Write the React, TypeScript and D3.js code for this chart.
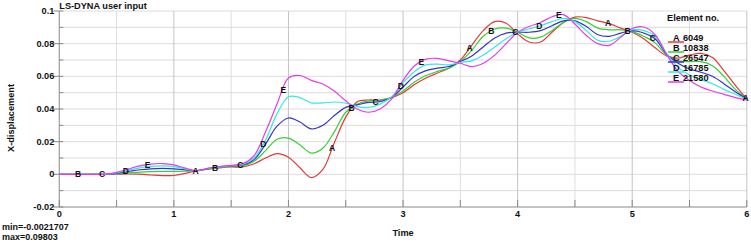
import React from "react";
import * as d3 from "d3";

// ---------- data ----------
const TIME = [
  0, 0.1, 0.2, 0.3, 0.4, 0.5, 0.6, 0.7, 0.8, 0.9,
  1, 1.1, 1.2, 1.3, 1.4, 1.5, 1.6, 1.7, 1.8, 1.9,
  2, 2.1, 2.2, 2.3, 2.4, 2.5, 2.6, 2.7, 2.8, 2.9,
  3, 3.1, 3.2, 3.3, 3.4, 3.5, 3.6, 3.7, 3.8, 3.9,
  4, 4.1, 4.2, 4.3, 4.4, 4.5, 4.6, 4.7, 4.8, 4.9,
  5, 5.1, 5.2, 5.3, 5.4, 5.5, 5.6, 5.7, 5.8, 5.9, 6,
];

const ELEM_A = [
  0, 0, 0, 0, 0, 0.0001, 0.0002, 0.0001, -0.0004, -0.0008,
  -0.0007, 0.0006, 0.0022, 0.0031, 0.004, 0.0045, 0.0045, 0.0065, 0.01, 0.0127,
  0.0105, 0.004, -0.002, 0.003, 0.0193, 0.035, 0.0445, 0.0455, 0.0455, 0.047,
  0.05, 0.055, 0.059, 0.062, 0.065, 0.07, 0.079, 0.088, 0.0935, 0.0925,
  0.086, 0.081, 0.081, 0.087, 0.093, 0.0963, 0.096, 0.094, 0.0923, 0.0895,
  0.087, 0.083, 0.0775, 0.0725, 0.0712, 0.073, 0.074, 0.0715, 0.0635, 0.0545, 0.0462,
];
const ELEM_B = [
  0, 0, 0, 0, 0, 0.0003, 0.0009, 0.0014, 0.0017, 0.0018,
  0.0018, 0.0019, 0.0022, 0.0033, 0.0043, 0.0049, 0.0052, 0.008, 0.0145, 0.0215,
  0.0222, 0.018, 0.013, 0.016, 0.026, 0.038, 0.043, 0.045, 0.0455, 0.047,
  0.051, 0.0565, 0.0605, 0.063, 0.065, 0.069, 0.076, 0.0845, 0.089, 0.0895,
  0.087, 0.0835, 0.084, 0.088, 0.093, 0.0955, 0.0935, 0.0895, 0.0885, 0.0885,
  0.0875, 0.0845, 0.0805, 0.073, 0.0695, 0.069, 0.069, 0.0665, 0.06, 0.052, 0.046,
];
const ELEM_C = [
  0, 0, 0, 0, 0, 0.0006, 0.0017, 0.0028, 0.0034, 0.0036,
  0.0034, 0.0027, 0.0022, 0.0035, 0.0045, 0.0052, 0.0057, 0.009, 0.0185, 0.0295,
  0.0345, 0.032, 0.0278, 0.03, 0.036, 0.041, 0.0425, 0.044, 0.0445, 0.047,
  0.0535, 0.06, 0.0635, 0.065, 0.066, 0.069, 0.0725, 0.078, 0.0835, 0.0865,
  0.087, 0.087, 0.088, 0.091, 0.094, 0.094, 0.0905, 0.0855, 0.0845, 0.0865,
  0.088, 0.0865, 0.083, 0.0735, 0.068, 0.0645, 0.0625, 0.06, 0.0555, 0.0505, 0.046,
];
const ELEM_D = [
  0, 0, 0, 0, 0, 0.0009, 0.0025, 0.004, 0.0049, 0.0052,
  0.0047, 0.0033, 0.0022, 0.0036, 0.0046, 0.0053, 0.0061, 0.01, 0.021, 0.037,
  0.0475, 0.047, 0.0438, 0.0437, 0.0443, 0.0435, 0.0415, 0.041, 0.043, 0.0475,
  0.056, 0.063, 0.067, 0.0675, 0.067, 0.0685, 0.0695, 0.073, 0.078, 0.083,
  0.087, 0.089, 0.091, 0.0935, 0.0955, 0.0935, 0.088, 0.082, 0.0815, 0.0845,
  0.0885, 0.088, 0.0845, 0.074, 0.0655, 0.061, 0.058, 0.0555, 0.052, 0.049, 0.0458,
];
const ELEM_E = [
  0, 0, 0, 0, 0, 0.0012, 0.0032, 0.0052, 0.0063, 0.0066,
  0.0058, 0.0038, 0.0022, 0.0038, 0.0048, 0.0055, 0.0065, 0.0115, 0.026, 0.043,
  0.059, 0.0605, 0.0575, 0.0553, 0.051, 0.045, 0.04, 0.038, 0.04, 0.046,
  0.0575, 0.0665, 0.0705, 0.071, 0.0695, 0.068, 0.066, 0.068, 0.073, 0.08,
  0.087, 0.0905, 0.093, 0.0965, 0.0978, 0.092, 0.085, 0.08, 0.079, 0.084,
  0.0893, 0.0902, 0.0855, 0.0735, 0.063, 0.0575, 0.0535, 0.051, 0.049, 0.047, 0.0455,
];

const LETTERS = ["A", "B", "C", "D", "E"];
const ELEMENT_IDS = ["6049", "10838", "26547", "16785", "21580"];
const COLORS = ["#e23a3a", "#35d035", "#3535c8", "#35e8e8", "#e83ae8"];
const VALUES = [ELEM_A, ELEM_B, ELEM_C, ELEM_D, ELEM_E];

// times at which each curve carries its letter marker
const LABEL_T_A = [1.19, 2.38, 3.58, 4.79, 5.99];
const LABEL_T_B = [0.163, 1.36, 2.55, 3.77, 4.96];
const LABEL_T_C = [0.373, 1.58, 2.76, 3.98, 5.18];
const LABEL_T_D = [0.58, 1.78, 2.98, 4.19];
const LABEL_T_E = [0.77, 1.955, 3.16, 4.36];
const LABEL_TIMES = [LABEL_T_A, LABEL_T_B, LABEL_T_C, LABEL_T_D, LABEL_T_E];

const X_TICKS = [0, 1, 2, 3, 4, 5, 6];
const Y_TICKS = [-0.02, 0, 0.02, 0.04, 0.06, 0.08, 0.1];
const Y_TICK_LABELS = ["-0.02", "0", "0.02", "0.04", "0.06", "0.08", "0.1"];

const TITLE = "LS-DYNA user input";
const X_TITLE = "Time";
const Y_TITLE = "X-displacement";
const LEGEND_TITLE = "Element no.";
const MIN_TEXT = "min=-0.0021707";
const MAX_TEXT = "max=0.09803";

// ---------- layout ----------
const W = 751;
const H = 243;
const FONT = "'Liberation Sans', Arial, Helvetica, sans-serif";

export default function App() {
  const x = d3.scaleLinear().domain([0, 6]).range([59.3, 746.8]);
  const y = d3.scaleLinear().domain([-0.02, 0.1]).range([207, 11]);

  const line = d3
    .line<[number, number]>()
    .x((d) => x(d[0]))
    .y((d) => y(d[1]))
    .curve(d3.curveCatmullRom.alpha(0.5));

  const interp = (vals: number[], t: number) => {
    const i = Math.min(TIME.length - 2, Math.max(0, d3.bisectRight(TIME, t) - 1));
    const f = (t - TIME[i]) / (TIME[i + 1] - TIME[i]);
    return vals[i] + (vals[i + 1] - vals[i]) * f;
  };

  const yMinor = d3.range(-0.02, 0.1001, 0.01);
  const xMinor = d3.range(0, 6.001, 0.5);

  const [x0, x1] = x.range();
  const [y0, y1] = y.range();

  return (
    <svg
      width={W}
      height={H}
      style={{ position: "absolute", left: 0, top: 0, background: "#fff" }}
      fontFamily={FONT}
      fontWeight="bold"
    >
      {/* horizontal grid */}
      {yMinor.map((v, i) => (
        <line key={"hg" + i} x1={x0} x2={x1} y1={y(v)} y2={y(v)} stroke="#dcdcdc" strokeWidth={1} />
      ))}
      {/* vertical grid */}
      {xMinor.map((v, i) => (
        <line
          key={"vg" + i}
          x1={x(v)}
          x2={x(v)}
          y1={y1}
          y2={y0}
          stroke={Math.abs(v - Math.round(v)) < 1e-6 ? "#c4c4c4" : "#dedede"}
          strokeWidth={1}
        />
      ))}
      {/* axes */}
      <line x1={x0} x2={x0} y1={y1} y2={y0} stroke="#9a9a9a" strokeWidth={1} />
      <line x1={x0} x2={x1} y1={y0} y2={y0} stroke="#9a9a9a" strokeWidth={1} />
      {/* y ticks */}
      {yMinor.map((v, i) => (
        <line key={"yt" + i} x1={x0} x2={x0 + 4} y1={y(v)} y2={y(v)} stroke="#888" strokeWidth={1} />
      ))}
      {Y_TICKS.map((v, i) => (
        <g key={"yl" + i}>
          <line x1={x0 - 6} x2={x0} y1={y(v)} y2={y(v)} stroke="#888" strokeWidth={1} />
          <text x={x0 - 5} y={y(v) + 3} fontSize={9.2} textAnchor="end" fill="#111">
            {Y_TICK_LABELS[i]}
          </text>
        </g>
      ))}
      {/* x ticks */}
      {xMinor.map((v, i) => (
        <line key={"xt" + i} x1={x(v)} x2={x(v)} y1={y0 - 7} y2={y0} stroke="#888" strokeWidth={1} />
      ))}
      {X_TICKS.map((v, i) => (
        <text key={"xl" + i} x={x(v)} y={217} fontSize={9.2} textAnchor="middle" fill="#111">
          {v}
        </text>
      ))}

      {/* curves */}
      {VALUES.map((vals, si) => (
        <path
          key={"c" + si}
          d={line(TIME.map((t, i) => [t, vals[i]] as [number, number])) || ""}
          fill="none"
          stroke={COLORS[si]}
          strokeWidth={1.2}
        />
      ))}

      {/* curve letter markers */}
      {LABEL_TIMES.map((ts, si) =>
        ts.map((t, j) => (
          <text
            key={"m" + si + "-" + j}
            x={x(t)}
            y={y(interp(VALUES[si], t)) + 3}
            fontSize={8.5}
            textAnchor="middle"
            fill="#111"
          >
            {LETTERS[si]}
          </text>
        ))
      )}

      {/* titles */}
      <text x={x0} y={9} fontSize={9.2} fill="#111">
        {TITLE}
      </text>
      <text x={(x0 + x1) / 2} y={236} fontSize={9.2} textAnchor="middle" fill="#111">
        {X_TITLE}
      </text>
      <text
        transform={`translate(13.5, ${(y0 + y1) / 2 + 9}) rotate(-90)`}
        fontSize={9.2}
        textAnchor="middle"
        fill="#111"
      >
        {Y_TITLE}
      </text>
      <text x={2} y={229.5} fontSize={9} fill="#111">
        {MIN_TEXT}
      </text>
      <text x={2} y={240} fontSize={9} fill="#111">
        {MAX_TEXT}
      </text>

      {/* legend */}
      <text x={667} y={20.5} fontSize={9.2} fill="#111">
        {LEGEND_TITLE}
      </text>
      {LETTERS.map((l, i) => (
        <g key={"lg" + i}>
          <line x1={668} x2={684} y1={42 + i * 10} y2={42 + i * 10} stroke={COLORS[i]} strokeWidth={1.5} />
          <text x={673} y={40.5 + i * 10} fontSize={9.2} fill="#111">
            {l}
          </text>
          <text x={683} y={40.5 + i * 10} fontSize={9.2} fill="#111">
            {ELEMENT_IDS[i]}
          </text>
        </g>
      ))}
    </svg>
  );
}
